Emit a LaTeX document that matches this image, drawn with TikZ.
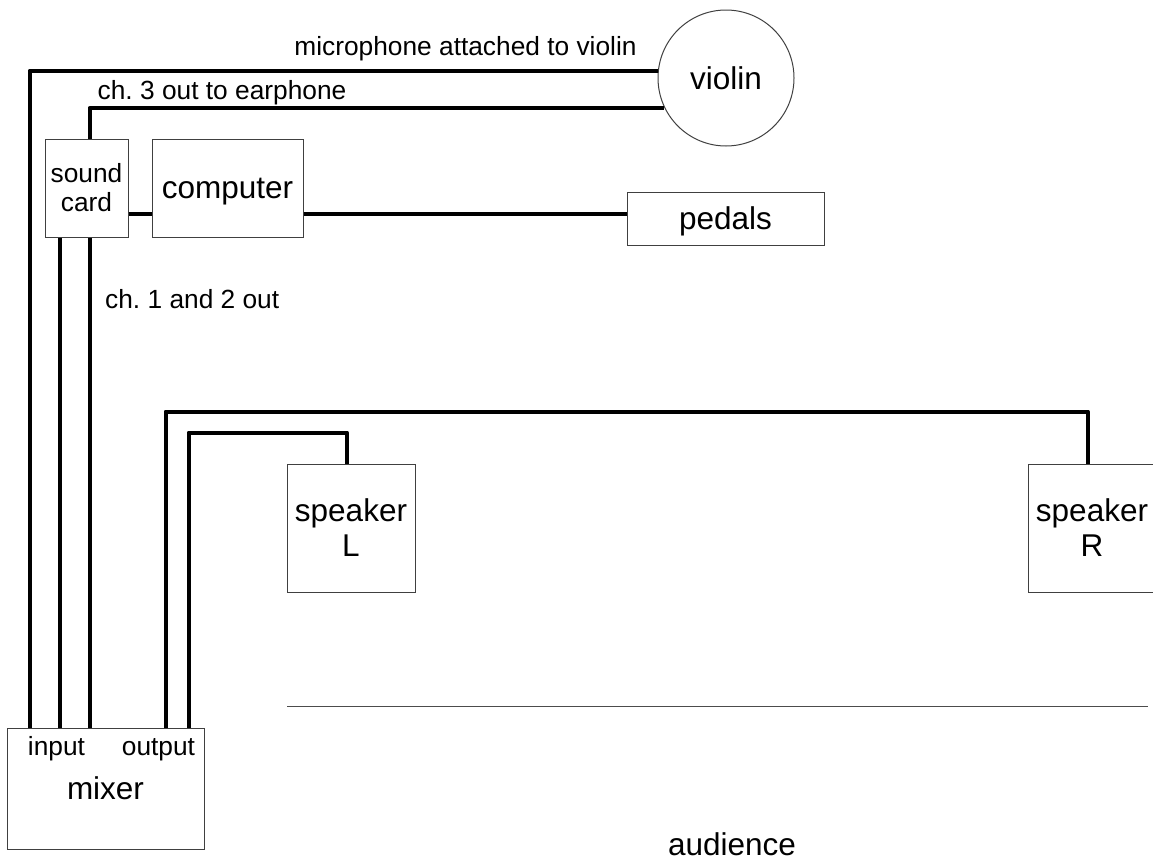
\documentclass[tikz,border=0pt]{standalone}
\usepackage{fontspec}
\setmainfont{Liberation Sans}
\usetikzlibrary{positioning}
\frenchspacing

\begin{document}
\begin{tikzpicture}[
x=1pt, y=-1pt,
devbox/.style={draw=black!75, line width=1pt, align=center, inner sep=0pt, font=\fontsize{31.5}{35}\selectfont},
flatbox/.style={devbox, text depth=0pt},
bigtext/.style={inner sep=0pt, font=\fontsize{31.5}{35}\selectfont},
smalltext/.style={inner sep=0pt, align=center, font=\fontsize{26.3}{29}\selectfont},
cable/.style={line width=4pt, line join=round}
]
\useasboundingbox (0,0) rectangle (1153,860);
\clip (0,0) rectangle (1153,860);
\node[flatbox, minimum width=197, minimum height=121] (mixer) at (105.5,788.5) {mixer};
\node[devbox, smalltext, minimum width=83, minimum height=98] (sc) at (86.5,188) {sound\\card};
\node[flatbox, minimum width=151, minimum height=98, right=23pt of sc] (computer) {computer};
\node[flatbox, minimum width=197, minimum height=53] (pedals) at (725.5,218.5) {pedals};
\node[flatbox, circle, minimum size=136] (violin) at (726,78) {violin};
\node[devbox, minimum width=128, minimum height=128] (speakerL) at (351,528) {speaker\\L};
\node[devbox, minimum width=128, minimum height=128] (speakerR) at (1092,528) {speaker\\R};
\node[smalltext, anchor=base] (miclabel) at (465.5,55) {microphone attached to violin};
\node[smalltext, anchor=base] (earlabel) at (222,99) {ch. 3 out to earphone};
\node[smalltext, anchor=base west] (chlabel) at (105,308) {ch. 1 and 2 out};
\node[smalltext, anchor=base] (inlabel) at (56.5,755) {input};
\node[smalltext, anchor=base] (outlabel) at (158.5,755) {output};
\node[bigtext, anchor=base] (audience) at (732,855) {audience};
\coordinate (in1) at ([xshift=23pt]mixer.north west);
\coordinate (in2) at ([xshift=15pt]sc.south west);
\coordinate (in3) at ([xshift=45pt]sc.south west);
\coordinate (pc) at ([yshift=-26pt]computer.east);
\coordinate (outR) at ([xshift=159pt]mixer.north west);
\coordinate (outL) at ([xshift=182pt]mixer.north west);
\draw[cable] (in1) |- (violin.174);
\draw[cable] ([xshift=45pt]sc.north west) |- (violin.206);
\draw[cable] (in2) -- (in2 |- mixer.north);
\draw[cable] (in3) -- (in3 |- mixer.north);
\draw[cable] ([yshift=-26pt]sc.east) -- ([yshift=-26pt]computer.west);
\draw[cable] (pc) -- (pc -| pedals.west);
\draw[cable] (outR) |- ([xshift=-4pt,yshift=52pt]speakerR.north) -- ([xshift=-4pt]speakerR.north);
\draw[cable] (outL) |- ([xshift=-4pt,yshift=31pt]speakerL.north) -- ([xshift=-4pt]speakerL.north);
\draw[draw=black!70, line width=1pt] (287,706) -- (1148,706);
\end{tikzpicture}
\end{document}
